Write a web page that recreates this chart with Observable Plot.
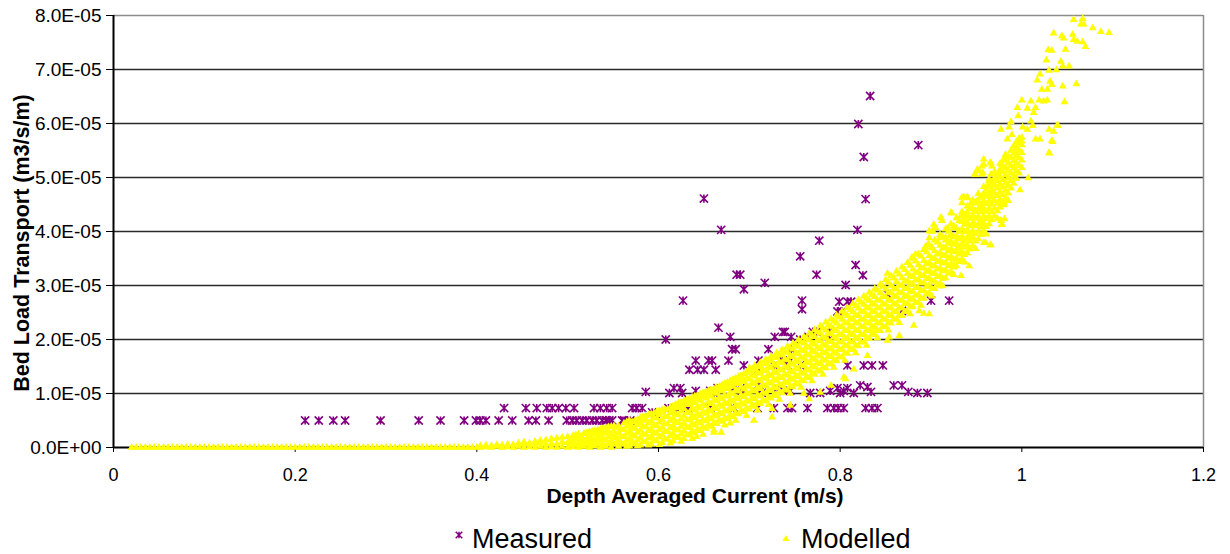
<!DOCTYPE html>
<html>
<head>
<meta charset="utf-8">
<script src="https://cdn.jsdelivr.net/npm/d3@7"></script>
<script src="https://cdn.jsdelivr.net/npm/@observablehq/plot@0.6"></script>
<style>
  body { margin: 0; background: #fff; }
  #chart svg { display: block; }
</style>
</head>
<body>
<div id="chart"></div>
<script>
// Depth averaged current (m/s) against bed load transport, stored in units of 1e-5 m3/s/m.

// Measured series: [current, transport]
const measured = [
  [0.833,6.51],[0.820,5.99],[0.886,5.60],[0.826,5.38],[0.828,4.60],[0.650,4.61],[0.819,4.03],[0.669,4.03],
  [0.777,3.83],[0.756,3.54],[0.817,3.38],[0.774,3.20],[0.825,3.19],[0.686,3.20],[0.690,3.20],[0.717,3.05],
  [0.694,2.93],[0.806,3.01],[0.627,2.72],[0.758,2.72],[0.758,2.56],[0.799,2.70],[0.808,2.70],[0.812,2.70],
  [0.797,2.52],[0.802,2.52],[0.852,2.84],[0.868,2.53],[0.900,2.72],[0.920,2.72],
  [0.666,2.22],[0.679,2.05],[0.608,2.00],[0.728,2.05],[0.737,2.14],[0.739,2.14],[0.746,2.05],[0.756,2.00],
  [0.765,2.05],[0.770,2.14],[0.774,2.14],[0.788,2.14],[0.788,2.00],[0.681,1.82],[0.685,1.82],[0.721,1.82],[0.746,1.82],
  [0.641,1.61],[0.655,1.61],[0.659,1.61],[0.634,1.44],[0.643,1.44],[0.650,1.44],[0.663,1.44],[0.677,1.61],
  [0.694,1.52],[0.710,1.61],[0.710,1.44],[0.734,1.61],[0.740,1.61],[0.745,1.61],[0.727,1.52],[0.742,1.52],
  [0.756,1.52],[0.808,1.52],[0.826,1.52],[0.835,1.52],[0.847,1.52],
  [0.586,1.03],[0.612,1.01],[0.617,1.10],[0.624,1.10],[0.626,1.01],[0.641,1.05],[0.657,1.05],[0.661,1.01],
  [0.665,1.10],[0.683,1.10],[0.692,1.05],[0.694,1.10],[0.709,1.15],[0.712,1.05],[0.714,1.01],[0.731,1.10],
  [0.738,1.05],[0.745,1.05],[0.767,1.01],[0.778,1.01],[0.789,1.05],[0.797,1.10],[0.800,1.01],[0.804,1.05],
  [0.808,1.10],[0.815,1.01],[0.822,1.15],[0.830,1.12],[0.834,1.03],[0.859,1.15],[0.868,1.15],[0.875,1.03],
  [0.885,1.01],[0.896,1.01],
  [0.430,0.73],[0.454,0.73],[0.466,0.73],[0.477,0.73],[0.483,0.73],[0.490,0.73],[0.498,0.73],[0.507,0.73],
  [0.529,0.73],[0.536,0.73],[0.543,0.73],[0.549,0.73],[0.571,0.73],[0.576,0.73],[0.582,0.73],[0.611,0.73],
  [0.619,0.73],[0.630,0.73],[0.633,0.73],[0.657,0.73],[0.683,0.73],[0.709,0.73],[0.727,0.73],[0.742,0.73],
  [0.747,0.73],[0.764,0.73],[0.786,0.73],[0.793,0.73],[0.798,0.73],[0.804,0.73],[0.828,0.73],[0.835,0.73],
  [0.841,0.73],[0.593,0.65],[0.597,0.62],
  [0.211,0.50],[0.226,0.50],[0.242,0.50],[0.255,0.50],[0.294,0.50],[0.336,0.50],[0.360,0.50],[0.386,0.50],
  [0.399,0.50],[0.404,0.50],[0.410,0.50],[0.424,0.50],[0.439,0.50],[0.457,0.50],[0.465,0.50],[0.479,0.50],
  [0.499,0.50],[0.505,0.50],[0.510,0.50],[0.516,0.50],[0.521,0.50],[0.527,0.50],[0.532,0.50],[0.538,0.50],
  [0.543,0.50],[0.549,0.50],[0.560,0.50],[0.569,0.50],[0.542,0.50],[0.546,0.50],[0.562,0.50]
];

// Modelled series, low-current stretch where transport reads zero: current values
const modelledZero = [
  0.020,0.025,0.030,0.035,0.040,0.045,0.050,0.055,0.060,0.065,0.070,0.075,0.080,0.085,0.090,0.095,
  0.100,0.105,0.110,0.115,0.120,0.125,0.130,0.135,0.140,0.145,0.150,0.155,0.160,0.165,0.170,0.175,
  0.180,0.185,0.190,0.195,0.200,0.205,0.210,0.215,0.220,0.225,0.230,0.235,0.240,0.245,0.250,0.255,
  0.260,0.265,0.270,0.275,0.280,0.285,0.290,0.295,0.300,0.305,0.310,0.315,0.320,0.325,0.330,0.335,
  0.340,0.345,0.350,0.355,0.360,0.365,0.370,0.375,0.380,0.385,0.390,0.395,0.400
];

// Modelled series, dense band: [current, transport, transport, ...]
const modelledColumns = [
  [0.404,0,0.03],[0.410,0.01,0.04],[0.416,0,0.03],[0.422,0.02,0.05],[0.428,0,0.04],[0.434,0.01,0.06],
  [0.440,0,0.05],[0.446,0.02,0.08],[0.452,0,0.06,0.10],[0.458,0.01,0.08],[0.464,0,0.05,0.11],
  [0.470,0.02,0.09,0.13],[0.476,0,0.06,0.14],[0.482,0.01,0.08,0.16],[0.488,0,0.07,0.17],[0.494,0.02,0.10,0.19],
  [0.500,0,0.09,0.20],[0.506,0.01,0.11,0.22],[0.512,0,0.08,0.17,0.25],[0.518,0.02,0.12,0.26],
  [0.524,0,0.10,0.20,0.29],[0.530,0.03,0.13,0.24,0.31],[0.536,0,0.11,0.22,0.34],[0.542,0.02,0.14,0.26,0.37],
  [0.548,0,0.12,0.24,0.39],
  [0.503,0.04,0.14],[0.509,0.05,0.16,0.23],[0.515,0.04,0.13,0.21],[0.521,0.06,0.16,0.27],
  [0.527,0.05,0.15,0.25,0.30],[0.533,0.07,0.18,0.28,0.33],[0.539,0.05,0.16,0.27,0.35],
  [0.545,0.07,0.19,0.30,0.38],[0.551,0.06,0.18,0.30,0.40],[0.553,0.08,0.22,0.36],
  [0.556,0.02,0.14,0.27,0.40],[0.562,0.06,0.20,0.33,0.45],[0.568,0.03,0.16,0.29,0.42,0.50],
  [0.574,0.07,0.21,0.35,0.49],[0.580,0.04,0.18,0.32,0.45,0.55],[0.586,0.10,0.24,0.38,0.52,0.59],
  [0.592,0.06,0.20,0.34,0.48,0.62],[0.598,0.12,0.26,0.40,0.54,0.66],[0.604,0.09,0.23,0.37,0.51,0.65,0.70],
  [0.610,0.15,0.29,0.43,0.57,0.71],[0.616,0.12,0.26,0.40,0.54,0.68,0.77],[0.622,0.18,0.32,0.46,0.60,0.74,0.82],
  [0.628,0.16,0.30,0.44,0.58,0.72,0.86],[0.634,0.23,0.37,0.51,0.65,0.79,0.90],[0.640,0.27,0.41,0.55,0.69,0.83,0.95],
  [0.646,0.31,0.45,0.59,0.73,0.87,0.99],[0.652,0.35,0.49,0.63,0.77,0.91,1.03],[0.658,0.39,0.53,0.67,0.81,0.95,1.07],
  [0.664,0.44,0.58,0.72,0.86,1.00,1.11],[0.670,0.48,0.62,0.76,0.90,1.04,1.16],[0.676,0.53,0.67,0.81,0.95,1.09,1.21],
  [0.682,0.57,0.71,0.85,0.99,1.13,1.26],[0.688,0.62,0.76,0.90,1.04,1.18,1.31],[0.694,0.66,0.80,0.94,1.08,1.22,1.36],
  [0.700,0.71,0.85,0.99,1.13,1.27,1.41,1.47],[0.706,0.76,0.90,1.04,1.18,1.32,1.46,1.52],
  [0.712,0.81,0.95,1.09,1.23,1.37,1.51,1.57],[0.718,0.86,1.00,1.14,1.28,1.42,1.56,1.63],
  [0.724,0.91,1.05,1.19,1.33,1.47,1.61,1.69],[0.730,0.96,1.10,1.24,1.38,1.52,1.66,1.75],
  [0.736,1.01,1.15,1.29,1.43,1.57,1.71,1.81],[0.742,1.06,1.20,1.34,1.48,1.62,1.76,1.87],
  [0.748,1.12,1.26,1.40,1.54,1.68,1.82,1.93],[0.754,1.17,1.31,1.45,1.59,1.73,1.87,1.99],
  [0.760,1.23,1.37,1.51,1.65,1.79,1.93,2.05],[0.766,1.29,1.43,1.57,1.71,1.85,1.99,2.11],
  [0.772,1.35,1.49,1.63,1.77,1.91,2.05,2.18],[0.778,1.41,1.55,1.69,1.83,1.97,2.11,2.25],
  [0.784,1.47,1.61,1.75,1.89,2.03,2.17,2.32],[0.790,1.54,1.68,1.82,1.96,2.10,2.24,2.38],
  [0.796,1.60,1.74,1.88,2.02,2.16,2.30,2.45],[0.802,1.67,1.81,1.95,2.09,2.23,2.37,2.52],
  [0.808,1.74,1.88,2.02,2.16,2.30,2.44,2.59],[0.814,1.81,1.95,2.09,2.23,2.37,2.51,2.66],
  [0.820,1.88,2.02,2.16,2.30,2.44,2.58,2.73],[0.826,1.95,2.09,2.23,2.37,2.51,2.65,2.80],
  [0.832,2.02,2.16,2.30,2.44,2.58,2.72,2.87],[0.838,2.09,2.23,2.37,2.51,2.65,2.79,2.94],
  [0.844,2.16,2.30,2.44,2.58,2.72,2.86,3.02],[0.850,2.23,2.37,2.51,2.65,2.79,2.93,3.10],
  [0.856,2.30,2.44,2.58,2.72,2.86,3.00,3.18],[0.862,2.37,2.51,2.65,2.79,2.93,3.07,3.26],
  [0.868,2.44,2.58,2.72,2.86,3.00,3.14,3.34],[0.874,2.52,2.66,2.80,2.94,3.08,3.22,3.42],
  [0.880,2.60,2.74,2.88,3.02,3.16,3.30,3.50],[0.886,2.68,2.82,2.96,3.10,3.24,3.38,3.58],
  [0.892,2.76,2.90,3.04,3.18,3.32,3.46,3.66],[0.898,2.85,2.99,3.13,3.27,3.41,3.55,3.75],
  [0.904,2.94,3.08,3.22,3.36,3.50,3.64,3.84],[0.910,3.04,3.18,3.32,3.46,3.60,3.74,3.94],
  [0.916,3.14,3.28,3.42,3.56,3.70,3.84,4.04],[0.922,3.25,3.39,3.53,3.67,3.81,3.95,4.14],
  [0.928,3.36,3.50,3.64,3.78,3.92,4.06,4.25],[0.934,3.48,3.62,3.76,3.90,4.04,4.18,4.36],
  [0.940,3.60,3.74,3.88,4.02,4.16,4.30,4.47],[0.946,3.73,3.87,4.01,4.15,4.29,4.43,4.58],
  [0.952,3.86,4.00,4.14,4.28,4.42,4.56,4.70],[0.958,4.00,4.14,4.28,4.42,4.56,4.70,4.83],
  [0.964,4.14,4.28,4.42,4.56,4.70,4.84,4.97],[0.970,4.29,4.43,4.57,4.71,4.85,4.99,5.11],
  [0.976,4.45,4.59,4.73,4.87,5.01,5.15,5.26],[0.982,4.62,4.76,4.90,5.04,5.18,5.32,5.42],
  [0.988,4.80,4.94,5.08,5.22,5.36,5.50],[0.994,4.98,5.12,5.26,5.40,5.54,5.66],
  [1.000,5.18,5.32,5.46,5.60,5.74],
  // readings between the columns above
  [0.559,0.08,0.21,0.34],[0.565,0.02,0.13,0.26,0.39,0.47],[0.571,0.10,0.23,0.36,0.47],
  [0.577,0.03,0.14,0.28,0.42,0.52],[0.583,0.11,0.25,0.39,0.50,0.57],[0.589,0.04,0.17,0.31,0.45,0.60],
  [0.595,0.13,0.27,0.41,0.55,0.64],[0.601,0.05,0.19,0.33,0.47,0.60,0.68],[0.607,0.16,0.30,0.44,0.58,0.70],
  [0.613,0.08,0.22,0.36,0.50,0.64,0.74],[0.619,0.19,0.33,0.47,0.61,0.73,0.80],
  [0.625,0.11,0.25,0.39,0.53,0.67,0.79,0.84],[0.631,0.23,0.37,0.51,0.65,0.79,0.88],
  [0.637,0.16,0.30,0.44,0.58,0.72,0.86,0.93],[0.643,0.34,0.48,0.62,0.76,0.90,0.97],
  [0.649,0.24,0.38,0.52,0.66,0.80,0.94,1.01],[0.655,0.42,0.56,0.70,0.84,0.98,1.05],
  [0.661,0.32,0.46,0.60,0.74,0.88,1.02,1.09],[0.667,0.51,0.65,0.79,0.93,1.07,1.13],
  [0.673,0.41,0.55,0.69,0.83,0.97,1.11,1.18],[0.679,0.60,0.74,0.88,1.02,1.16,1.23],
  [0.685,0.50,0.64,0.78,0.92,1.06,1.20,1.28],[0.691,0.69,0.83,0.97,1.11,1.25,1.33],
  [0.697,0.59,0.73,0.87,1.01,1.15,1.29,1.39],[0.703,0.78,0.92,1.06,1.20,1.34,1.44],
  [0.709,0.69,0.83,0.97,1.11,1.25,1.39,1.49],[0.715,0.88,1.02,1.16,1.30,1.44,1.55],
  [0.721,0.79,0.93,1.07,1.21,1.35,1.49,1.60],[0.727,0.98,1.12,1.26,1.40,1.54,1.66],
  [0.733,0.89,1.03,1.17,1.31,1.45,1.59,1.72],[0.739,1.08,1.22,1.36,1.50,1.64,1.78],
  [0.745,1.00,1.14,1.28,1.42,1.56,1.70,1.84],[0.751,1.19,1.33,1.47,1.61,1.75,1.90],
  [0.757,1.11,1.25,1.39,1.53,1.67,1.81,1.96],[0.763,1.31,1.45,1.59,1.73,1.87,2.02],
  [0.769,1.23,1.37,1.51,1.65,1.79,1.93,2.08],[0.775,1.43,1.57,1.71,1.85,1.99,2.14],
  [0.781,1.35,1.49,1.63,1.77,1.91,2.05,2.21],[0.787,1.55,1.69,1.83,1.97,2.11,2.27],
  [0.793,1.48,1.62,1.76,1.90,2.04,2.18,2.34],[0.799,1.68,1.82,1.96,2.10,2.24,2.41],
  [0.805,1.61,1.75,1.89,2.03,2.17,2.31,2.48],[0.811,1.82,1.96,2.10,2.24,2.38,2.55],
  [0.817,1.75,1.89,2.03,2.17,2.31,2.45,2.62],[0.823,1.96,2.10,2.24,2.38,2.52,2.69],
  [0.829,1.89,2.03,2.17,2.31,2.45,2.59,2.76],[0.835,2.10,2.24,2.38,2.52,2.66,2.83],
  [0.841,2.03,2.17,2.31,2.45,2.59,2.73,2.91],[0.847,2.24,2.38,2.52,2.66,2.80,2.98],
  [0.853,2.17,2.31,2.45,2.59,2.73,2.87,3.06],[0.859,2.38,2.52,2.66,2.80,2.94,3.14],
  [0.865,2.31,2.45,2.59,2.73,2.87,3.01,3.21],[0.871,2.52,2.66,2.80,2.94,3.08,3.29],
  [0.877,2.47,2.61,2.75,2.89,3.03,3.17,3.37],[0.883,2.68,2.82,2.96,3.10,3.24,3.45],
  [0.889,2.63,2.77,2.91,3.05,3.19,3.33,3.54],[0.895,2.84,2.98,3.12,3.26,3.40,3.62],
  [0.901,2.80,2.94,3.08,3.22,3.36,3.50,3.71],[0.907,3.02,3.16,3.30,3.44,3.58,3.80],
  [0.913,2.99,3.13,3.27,3.41,3.55,3.69,3.90],[0.919,3.22,3.36,3.50,3.64,3.78,4.00],
  [0.925,3.20,3.34,3.48,3.62,3.76,3.90,4.10],[0.931,3.44,3.58,3.72,3.86,4.00,4.20],
  [0.937,3.43,3.57,3.71,3.85,3.99,4.13,4.31],[0.943,3.68,3.82,3.96,4.10,4.24,4.42],
  [0.949,3.68,3.82,3.96,4.10,4.24,4.38,4.53],[0.955,3.94,4.08,4.22,4.36,4.50,4.65],
  [0.961,3.95,4.09,4.23,4.37,4.51,4.65,4.78],[0.967,4.22,4.36,4.50,4.64,4.78,4.92],
  [0.973,4.24,4.38,4.52,4.66,4.80,4.94,5.06],[0.979,4.54,4.68,4.82,4.96,5.10,5.22],
  [0.985,4.57,4.71,4.85,4.99,5.13,5.27,5.38],[0.991,4.89,5.03,5.17,5.31,5.45,5.58],
  [0.997,5.08,5.22,5.36,5.50,5.62]
];

// Modelled series, scattered points around and above the band: [current, transport]
const modelledScatter = [
  [0.642,0.20],[0.661,0.28],[0.669,0.28],[0.679,0.45],[0.705,0.50],[0.725,0.56],[0.725,0.72],[0.745,0.78],
  [0.766,0.90],[0.778,1.02],[0.806,1.27],[0.804,1.30],[0.790,1.15],[0.815,1.45],[0.830,1.70],[0.760,1.00],
  [0.854,2.04],[0.865,2.07],[0.881,2.26],[0.898,2.47],[0.887,2.53],[0.837,2.16],[0.852,1.98],[0.892,2.48],
  [0.910,2.99],[0.933,3.18],[0.942,3.36],[0.925,3.38],[0.960,3.79],[0.965,3.75],[0.945,3.92],
  [0.852,3.22],[0.859,3.14],[0.880,3.51],[0.897,3.77],[0.879,3.52],[0.883,3.58],[0.898,4.01],[0.902,4.01],
  [0.903,4.13],[0.911,4.26],[0.912,4.20],[0.922,4.35],[0.934,4.63],[0.940,4.64],[0.948,5.06],[0.953,5.12],
  [0.958,5.24],[0.957,5.09],[0.965,5.27],[0.967,5.21],[0.980,4.57],[0.981,4.52],[0.977,4.20],[0.978,4.13],
  [0.998,4.77],[1.007,4.99],[1.030,5.46],[1.033,5.68],[1.039,5.97],
  [1.057,7.92],[1.067,7.94],[1.065,7.84],[1.068,7.84],[1.078,7.77],[1.087,7.70],[1.096,7.68],[1.035,7.67],
  [1.044,7.62],[1.046,7.58],[1.056,7.65],[1.057,7.55],[1.061,7.52],[1.067,7.51],[1.070,7.42],[1.029,7.36],
  [1.033,7.35],[1.048,7.37],[1.027,7.17],[1.043,7.15],[1.045,7.06],[1.052,7.06],[1.038,6.99],[1.030,6.98],
  [1.020,6.91],[1.017,6.80],[1.031,6.78],[1.033,6.72],[1.028,6.63],[1.022,6.63],[1.045,6.69],[1.060,6.73],
  [1.000,6.43],[1.010,6.41],[1.019,6.43],[1.024,6.41],[1.028,6.43],[1.047,6.40],[0.995,6.29],[1.006,6.28],
  [1.015,6.29],[1.013,6.20],[0.996,6.14],[0.988,6.03],[0.986,5.93],[1.001,5.93],[1.006,5.89],[1.012,5.96],
  [1.010,6.04],[0.977,5.89],[0.989,5.79],[0.984,5.71],[0.997,5.72],[1.000,5.67],[1.015,5.71],[1.020,5.71],
  [1.030,5.89],[1.035,5.85],[1.040,5.96],[1.034,5.66],[1.030,5.45],[0.994,5.45],[0.958,5.34],[0.966,5.27],
  [0.980,5.34],[0.978,5.24],[0.956,5.21],[0.951,5.15],[0.949,5.05],[0.956,5.06],[0.966,5.06],[0.973,5.06],
  [0.977,5.12],[0.964,4.94],[0.969,4.90],[0.962,4.84],[0.966,4.75],[0.969,4.72],[0.960,4.69],[0.955,4.63],
  [0.951,4.57],[0.936,4.64],[0.940,4.62],[0.934,4.53],[0.944,4.53],[0.949,4.53],[0.958,4.53],[0.969,4.58],
  [0.981,4.58],[0.980,4.49],[0.956,4.44],[0.947,4.37],[0.940,4.36],[0.923,4.34],[0.933,4.29],[0.940,4.26],
  [0.936,4.20],[0.947,4.16],[0.955,4.15],[0.911,4.25],[0.918,4.06],[0.925,4.07],[0.931,4.01],[0.905,4.07],
  [0.977,4.20],[0.981,4.23],[0.978,4.13],[0.901,4.00],[0.898,3.88],[0.909,3.88],[0.916,3.89],[0.922,3.92],
  [0.929,3.86],[0.938,3.83],[0.945,3.92],[0.958,3.79],[0.966,3.75],[0.894,3.72],[0.901,3.69],[0.914,3.70],
  [0.929,3.70],[0.942,3.67]
];

const xTickValues = [0, 0.2, 0.4, 0.6, 0.8, 1.0, 1.2];
const yTickValues = [0, 1, 2, 3, 4, 5, 6, 7, 8];   // in units of 1e-5
const seriesNames = ["Measured", "Modelled"];
const axisTitles = {x: "Depth Averaged Current (m/s)", y: "Bed Load Transport (m3/s/m)"};

const UNIT = 1e-5;
const measuredRows = measured.map(([c, t]) => ({current: c, transport: t * UNIT}));
const modelledRows = [
  ...modelledZero.map(c => ({current: c, transport: 0})),
  ...modelledColumns.flatMap(([c, ...ts]) => ts.map(t => ({current: c, transport: t * UNIT}))),
  ...modelledScatter.map(([c, t]) => ({current: c, transport: t * UNIT}))
];

// Star marker: an X crossed by a vertical stroke
const starX = {
  draw(context, size) {
    const h = Math.sqrt(size / Math.PI);
    context.moveTo(-h, -h); context.lineTo(h, h);
    context.moveTo(-h, h); context.lineTo(h, -h);
    context.moveTo(0, -h); context.lineTo(0, h);
  }
};

const expFormat = d => {
  const [m, e] = d.toExponential(1).split("e");
  return m + "E" + e[0] + e.slice(1).padStart(2, "0");
};

const FONT = "'Liberation Sans', Arial, sans-serif";
const PURPLE = "#800080";
const YELLOW = "#ffff00";

const chart = Plot.plot({
  width: 1230,
  height: 554,
  marginLeft: 113,
  marginRight: 27,
  marginTop: 15,
  marginBottom: 107,
  style: {fontFamily: FONT, fontSize: "18px", color: "#000", background: "#fff", overflow: "visible"},
  x: {domain: [0, 1.2]},
  y: {domain: [0, 8 * UNIT]},
  marks: [
    Plot.ruleY(yTickValues.slice(1, -1).map(v => v * UNIT), {stroke: "#2a2a2a", strokeWidth: 1.4}),
    Plot.ruleY([8 * UNIT], {stroke: "#8c8c8c", strokeWidth: 1.5}),
    Plot.ruleX([1.2], {stroke: "#8c8c8c", strokeWidth: 1.5}),
    Plot.ruleX([0], {stroke: "#000", strokeWidth: 2}),
    Plot.ruleY([0], {stroke: "#000", strokeWidth: 2}),
    Plot.axisX({ticks: xTickValues, tickFormat: d => String(+d.toFixed(1)), tickSize: 5, tickPadding: 16, label: null, fontSize: 18}),
    Plot.axisY({ticks: yTickValues.map(v => v * UNIT), tickFormat: expFormat, tickSize: 7, tickPadding: 5, label: null, fontSize: 19}),
    Plot.dot(measuredRows, {x: "current", y: "transport", symbol: starX, r: 4.1, stroke: PURPLE, strokeWidth: 1.6, fill: "none"}),
    Plot.dot(modelledRows, {x: "current", y: "transport", symbol: "triangle", r: 2.9, fill: YELLOW, stroke: "none"})
  ]
});

const svg = d3.select(chart);

// Axis titles
svg.append("text")
  .attr("transform", "translate(29,243) rotate(-90)")
  .attr("text-anchor", "middle")
  .attr("font-family", FONT).attr("font-weight", "bold").attr("font-size", 21.5)
  .attr("fill", "#000")
  .text(axisTitles.y);

svg.append("text")
  .attr("x", 695).attr("y", 503)
  .attr("text-anchor", "middle")
  .attr("font-family", FONT).attr("font-weight", "bold").attr("font-size", 21)
  .attr("fill", "#000")
  .text(axisTitles.x);

// Legend
const legend = svg.append("g")
  .attr("font-family", FONT).attr("font-size", 27).attr("fill", "#000")
  .attr("text-anchor", "start");
legend.append("path")
  .attr("transform", "translate(459,535)")
  .attr("d", d3.symbol(starX, Math.PI * 3.3 * 3.3)())
  .attr("fill", "none").attr("stroke", PURPLE).attr("stroke-width", 1.5);
legend.append("text").attr("x", 472).attr("y", 548).attr("text-anchor", "start").text(seriesNames[0]);
legend.append("path")
  .attr("transform", "translate(786,539)")
  .attr("d", d3.symbol(d3.symbolTriangle, Math.PI * 2.6 * 2.6)())
  .attr("fill", YELLOW);
legend.append("text").attr("x", 801).attr("y", 548).attr("text-anchor", "start").text(seriesNames[1]);

document.getElementById("chart").appendChild(chart);
</script>
</body>
</html>
